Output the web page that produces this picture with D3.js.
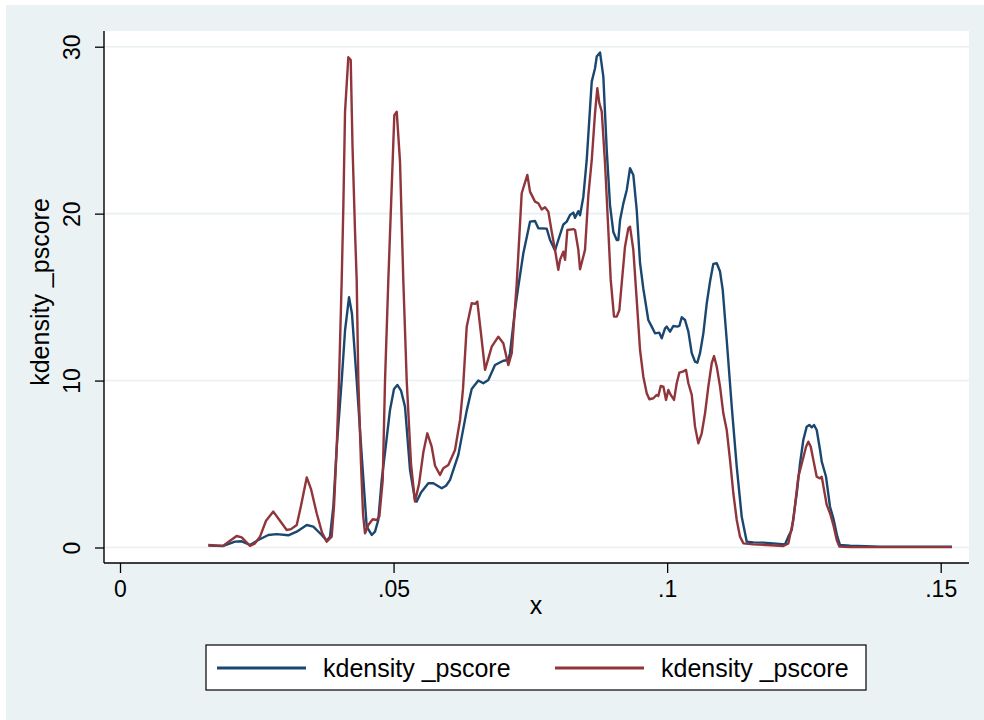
<!DOCTYPE html>
<html>
<head>
<meta charset="utf-8">
<script src="https://cdn.jsdelivr.net/npm/d3@7"></script>
<style>
  html, body { margin: 0; padding: 0; background: #ffffff; }
  svg { display: block; font-family: "Liberation Sans", Arial, sans-serif; }
</style>
</head>
<body>
<svg id="chart" width="984" height="720"></svg>
<script>
// Axis ticks and labels
const xTicks = [0, 0.05, 0.1, 0.15];
const xTickLabels = ["0", ".05", ".1", ".15"];
const yTicks = [0, 10, 20, 30];
const xTitle = "x";
const yTitle = "kdensity _pscore";
const seriesNames = ["kdensity _pscore", "kdensity _pscore"];
const seriesColors = ["#1a476f", "#90353b"];

// First density estimate: evaluation points and densities
const densA_x = [0.01614,0.01888,0.02102,0.02224,0.02376,0.02528,0.02711,0.02864,0.03076,0.03230,
  0.03413,0.03533,0.03687,0.03778,0.03838,0.03899,0.03961,0.04052,0.04113,0.04186,
  0.04240,0.04326,0.04418,0.04509,0.04601,0.04661,0.04721,0.04783,0.04862,0.04935,
  0.05008,0.05069,0.05136,0.05209,0.05301,0.05392,0.05423,0.05502,0.05635,0.05727,
  0.05880,0.05959,0.06032,0.06184,0.06337,0.06428,0.06549,0.06640,0.06732,0.06854,
  0.07006,0.07097,0.07128,0.07220,0.07280,0.07372,0.07494,0.07585,0.07646,0.07799,
  0.07860,0.07951,0.08011,0.08103,0.08165,0.08225,0.08286,0.08317,0.08377,0.08408,
  0.08468,0.08530,0.08622,0.08682,0.08713,0.08774,0.08834,0.08896,0.08956,0.09017,
  0.09079,0.09108,0.09139,0.09199,0.09262,0.09322,0.09382,0.09444,0.09505,0.09565,
  0.09656,0.09718,0.09779,0.09857,0.09901,0.09962,0.09993,0.10053,0.10113,0.10187,
  0.10223,0.10267,0.10327,0.10388,0.10450,0.10510,0.10552,0.10601,0.10662,0.10724,
  0.10784,0.10844,0.10907,0.10967,0.11016,0.11089,0.11181,0.11272,0.11363,0.11455,
  0.11576,0.11758,0.11941,0.12155,0.12215,0.12277,0.12369,0.12429,0.12489,0.12551,
  0.12599,0.12643,0.12685,0.12734,0.12795,0.12826,0.12904,0.12977,0.13038,0.13111,
  0.13160,0.13343,0.13891,0.15207];
const densA_y = [0.11,0.09,0.35,0.37,0.15,0.45,0.75,0.80,0.73,0.95,
  1.35,1.25,0.75,0.40,0.65,2.45,6.0,10.0,13.0,15.0,
  14.0,10.0,5.5,1.25,0.75,0.95,1.65,4.04,6.2,8.24,
  9.5,9.74,9.4,8.44,4.64,2.85,2.75,3.3,3.85,3.85,
  3.55,3.7,4.05,5.55,8.2,9.5,10.0,9.84,10.04,10.93,
  11.19,11.23,11.64,14.23,15.63,17.63,19.52,19.56,19.12,19.1,
  18.42,17.8,18.42,19.35,19.52,19.92,20.06,19.75,20.15,19.9,
  21.0,23.2,27.91,28.71,29.41,29.65,28.21,23.82,20.5,18.9,
  18.42,18.42,19.6,20.6,21.42,22.72,22.32,20.22,17.03,15.5,
  13.63,13.23,12.83,12.87,12.53,13.13,13.23,12.93,13.27,13.23,
  13.27,13.79,13.63,12.93,11.64,11.13,11.07,11.64,12.83,14.63,
  15.93,16.99,17.03,16.53,15.43,12.43,8.44,4.84,1.85,0.35,
  0.31,0.29,0.25,0.19,0.65,1.05,3.25,5.04,6.44,7.24,
  7.34,7.2,7.34,7.04,5.84,5.14,4.24,2.44,1.75,0.65,
  0.15,0.11,0.05,0.05];

// Second density estimate: evaluation points and densities
const densB_x = [0.01614,0.01888,0.02011,0.02133,0.02224,0.02376,0.02468,0.02559,0.02669,0.02802,
  0.02924,0.03047,0.03126,0.03230,0.03308,0.03413,0.03491,0.03595,0.03692,0.03778,
  0.03869,0.03912,0.03961,0.04003,0.04052,0.04082,0.04113,0.04173,0.04217,0.04250,
  0.04295,0.04326,0.04356,0.04405,0.04442,0.04478,0.04538,0.04619,0.04692,0.04740,
  0.04802,0.04844,0.04904,0.04935,0.05014,0.05058,0.05118,0.05178,0.05240,0.05319,
  0.05392,0.05465,0.05544,0.05617,0.05697,0.05758,0.05849,0.05909,0.06001,0.06123,
  0.06215,0.06269,0.06337,0.06428,0.06489,0.06531,0.06611,0.06672,0.06794,0.06915,
  0.07006,0.07097,0.07160,0.07251,0.07342,0.07445,0.07494,0.07585,0.07646,0.07708,
  0.07768,0.07829,0.07891,0.07951,0.08011,0.08042,0.08103,0.08134,0.08176,0.08286,
  0.08317,0.08377,0.08408,0.08468,0.08499,0.08560,0.08622,0.08682,0.08724,0.08761,
  0.08805,0.08865,0.08925,0.08969,0.09029,0.09079,0.09127,0.09170,0.09230,0.09291,
  0.09322,0.09382,0.09444,0.09505,0.09565,0.09627,0.09675,0.09748,0.09810,0.09839,
  0.09883,0.09931,0.09980,0.10022,0.10066,0.10126,0.10175,0.10223,0.10285,0.10345,
  0.10388,0.10450,0.10510,0.10570,0.10632,0.10693,0.10753,0.10815,0.10857,0.10907,
  0.10967,0.11027,0.11089,0.11150,0.11210,0.11272,0.11332,0.11393,0.11576,0.11820,
  0.12124,0.12215,0.12307,0.12398,0.12478,0.12539,0.12581,0.12625,0.12685,0.12734,
  0.12795,0.12826,0.12868,0.12917,0.12977,0.13038,0.13100,0.13148,0.13343,0.15207];
const densB_y = [0.15,0.10,0.40,0.69,0.61,0.10,0.25,0.65,1.60,2.15,
  1.60,1.05,1.10,1.35,2.50,4.20,3.50,2.05,0.90,0.35,
  0.65,2.50,6.0,10.0,16.0,20.4,26.1,29.37,29.2,24.0,
  19.0,16.0,10.0,5.0,2.0,0.85,1.35,1.69,1.65,1.85,
  4.04,10.0,16.0,18.8,25.9,26.1,23.1,16.0,10.0,5.0,
  2.75,3.8,5.7,6.84,6.04,4.9,4.35,4.75,4.94,5.84,
  7.64,9.5,13.23,14.63,14.59,14.73,12.43,10.64,12.03,12.63,
  12.24,10.93,11.64,15.83,21.22,22.32,21.32,20.72,20.62,20.25,
  20.38,20.12,18.9,17.83,16.63,17.23,17.72,17.23,19.02,19.07,
  19.02,17.83,16.67,17.43,17.83,21.1,23.2,26.02,27.51,26.61,
  26.11,23.02,19.02,16.03,13.83,13.83,14.23,15.83,18.02,19.12,
  19.22,17.83,14.83,11.83,10.23,9.24,8.88,8.94,9.14,9.08,
  9.68,9.64,8.84,9.44,9.14,8.84,9.84,10.47,10.53,10.64,
  9.84,9.14,7.24,6.24,6.84,8.04,9.64,11.04,11.47,10.83,
  9.64,8.04,7.04,5.24,3.25,1.65,0.65,0.25,0.19,0.15,
  0.09,0.25,1.65,4.24,5.24,6.04,6.34,6.04,5.04,4.24,
  4.14,4.24,3.45,2.55,2.05,1.35,0.45,0.05,0.03,0.02];

// Layout
const W = 984, H = 720;
const graphBox = { x: 6, y: 5, w: W - 6, h: H - 5 };
const plot = { left: 104, top: 31, right: 969, bottom: 563 };
const ink = "#000000";
const gridColor = "#e9f0f2";
const bgColor = "#eaf2f3";

const svg = d3.select("#chart");

// Outer graph region and white plot region
svg.append("rect").attr("x", graphBox.x).attr("y", graphBox.y)
  .attr("width", graphBox.w).attr("height", graphBox.h).attr("fill", bgColor);
svg.append("rect").attr("x", plot.left).attr("y", plot.top)
  .attr("width", plot.right - plot.left).attr("height", plot.bottom - plot.top)
  .attr("fill", "#ffffff");

const x = d3.scaleLinear().domain([0, 0.15]).range([120, 940.7]);
const y = d3.scaleLinear().domain([0, 30]).range([547.5, 46.7]);

// Horizontal gridlines
svg.append("g").selectAll("line").data(yTicks).join("line")
  .attr("x1", plot.left).attr("x2", plot.right)
  .attr("y1", d => y(d)).attr("y2", d => y(d))
  .attr("stroke", gridColor).attr("stroke-width", 1.6);

// Density curves
const series = [
  { name: seriesNames[0], color: seriesColors[0], xs: densA_x, ys: densA_y },
  { name: seriesNames[1], color: seriesColors[1], xs: densB_x, ys: densB_y }
];
const line = d3.line().x(d => x(d[0])).y(d => y(d[1]));
svg.append("g").selectAll("path").data(series).join("path")
  .attr("d", s => line(s.xs.map((v, i) => [v, s.ys[i]])))
  .attr("fill", "none")
  .attr("stroke", s => s.color)
  .attr("stroke-width", 2.4)
  .attr("stroke-linejoin", "round");

// Y axis
const yAxis = d3.axisLeft(y).tickValues(yTicks).tickSizeInner(9).tickSizeOuter(0).tickPadding(0);
const gy = svg.append("g").attr("transform", `translate(${plot.left},0)`).call(yAxis);
gy.select(".domain").remove();
gy.selectAll(".tick line").attr("stroke", ink).attr("stroke-width", 1.3);
gy.selectAll(".tick text")
  .attr("transform", "rotate(-90)")
  .attr("x", 0).attr("y", -24).attr("dy", 0)
  .attr("text-anchor", "middle")
  .attr("fill", ink)
  .style("font-size", "23px")
  .style("font-family", "'Liberation Sans', Arial, sans-serif");
svg.append("line").attr("x1", plot.left).attr("x2", plot.left)
  .attr("y1", plot.top).attr("y2", plot.bottom)
  .attr("stroke", ink).attr("stroke-width", 1.4);

// X axis
const xAxis = d3.axisBottom(x).tickValues(xTicks)
  .tickFormat((d, i) => xTickLabels[i]).tickSizeInner(10).tickSizeOuter(0).tickPadding(0);
const gx = svg.append("g").attr("transform", `translate(0,${plot.bottom})`).call(xAxis);
gx.select(".domain").remove();
gx.selectAll(".tick line").attr("stroke", ink).attr("stroke-width", 1.3);
gx.selectAll(".tick text")
  .attr("y", 34).attr("dy", 0)
  .attr("fill", ink)
  .style("font-size", "23px")
  .style("font-family", "'Liberation Sans', Arial, sans-serif");
svg.append("line").attr("x1", plot.left).attr("x2", plot.right)
  .attr("y1", plot.bottom).attr("y2", plot.bottom)
  .attr("stroke", ink).attr("stroke-width", 1.4);

// Axis titles
svg.append("text").attr("x", 536).attr("y", 614)
  .attr("text-anchor", "middle").style("font-size", "25px").attr("fill", ink)
  .text(xTitle);
svg.append("text").attr("transform", "translate(49,292) rotate(-90)")
  .attr("text-anchor", "middle").style("font-size", "25px").attr("fill", ink)
  .text(yTitle);

// Legend
const legend = { x: 206, y: 645, w: 660, h: 45 };
svg.append("rect").attr("x", legend.x).attr("y", legend.y)
  .attr("width", legend.w).attr("height", legend.h)
  .attr("fill", "#ffffff").attr("stroke", ink).attr("stroke-width", 1.2);
const keyOffsets = [0, 338];
const items = svg.append("g").selectAll("g").data(series).join("g")
  .attr("transform", (d, i) => `translate(${legend.x + 11 + keyOffsets[i]},${legend.y + 23})`);
items.append("line").attr("x1", 0).attr("x2", 89).attr("y1", 0).attr("y2", 0)
  .attr("stroke", d => d.color).attr("stroke-width", 2.8);
items.append("text").attr("x", 106).attr("y", 9)
  .style("font-size", "25px").attr("fill", ink)
  .text(d => d.name);
</script>
</body>
</html>
